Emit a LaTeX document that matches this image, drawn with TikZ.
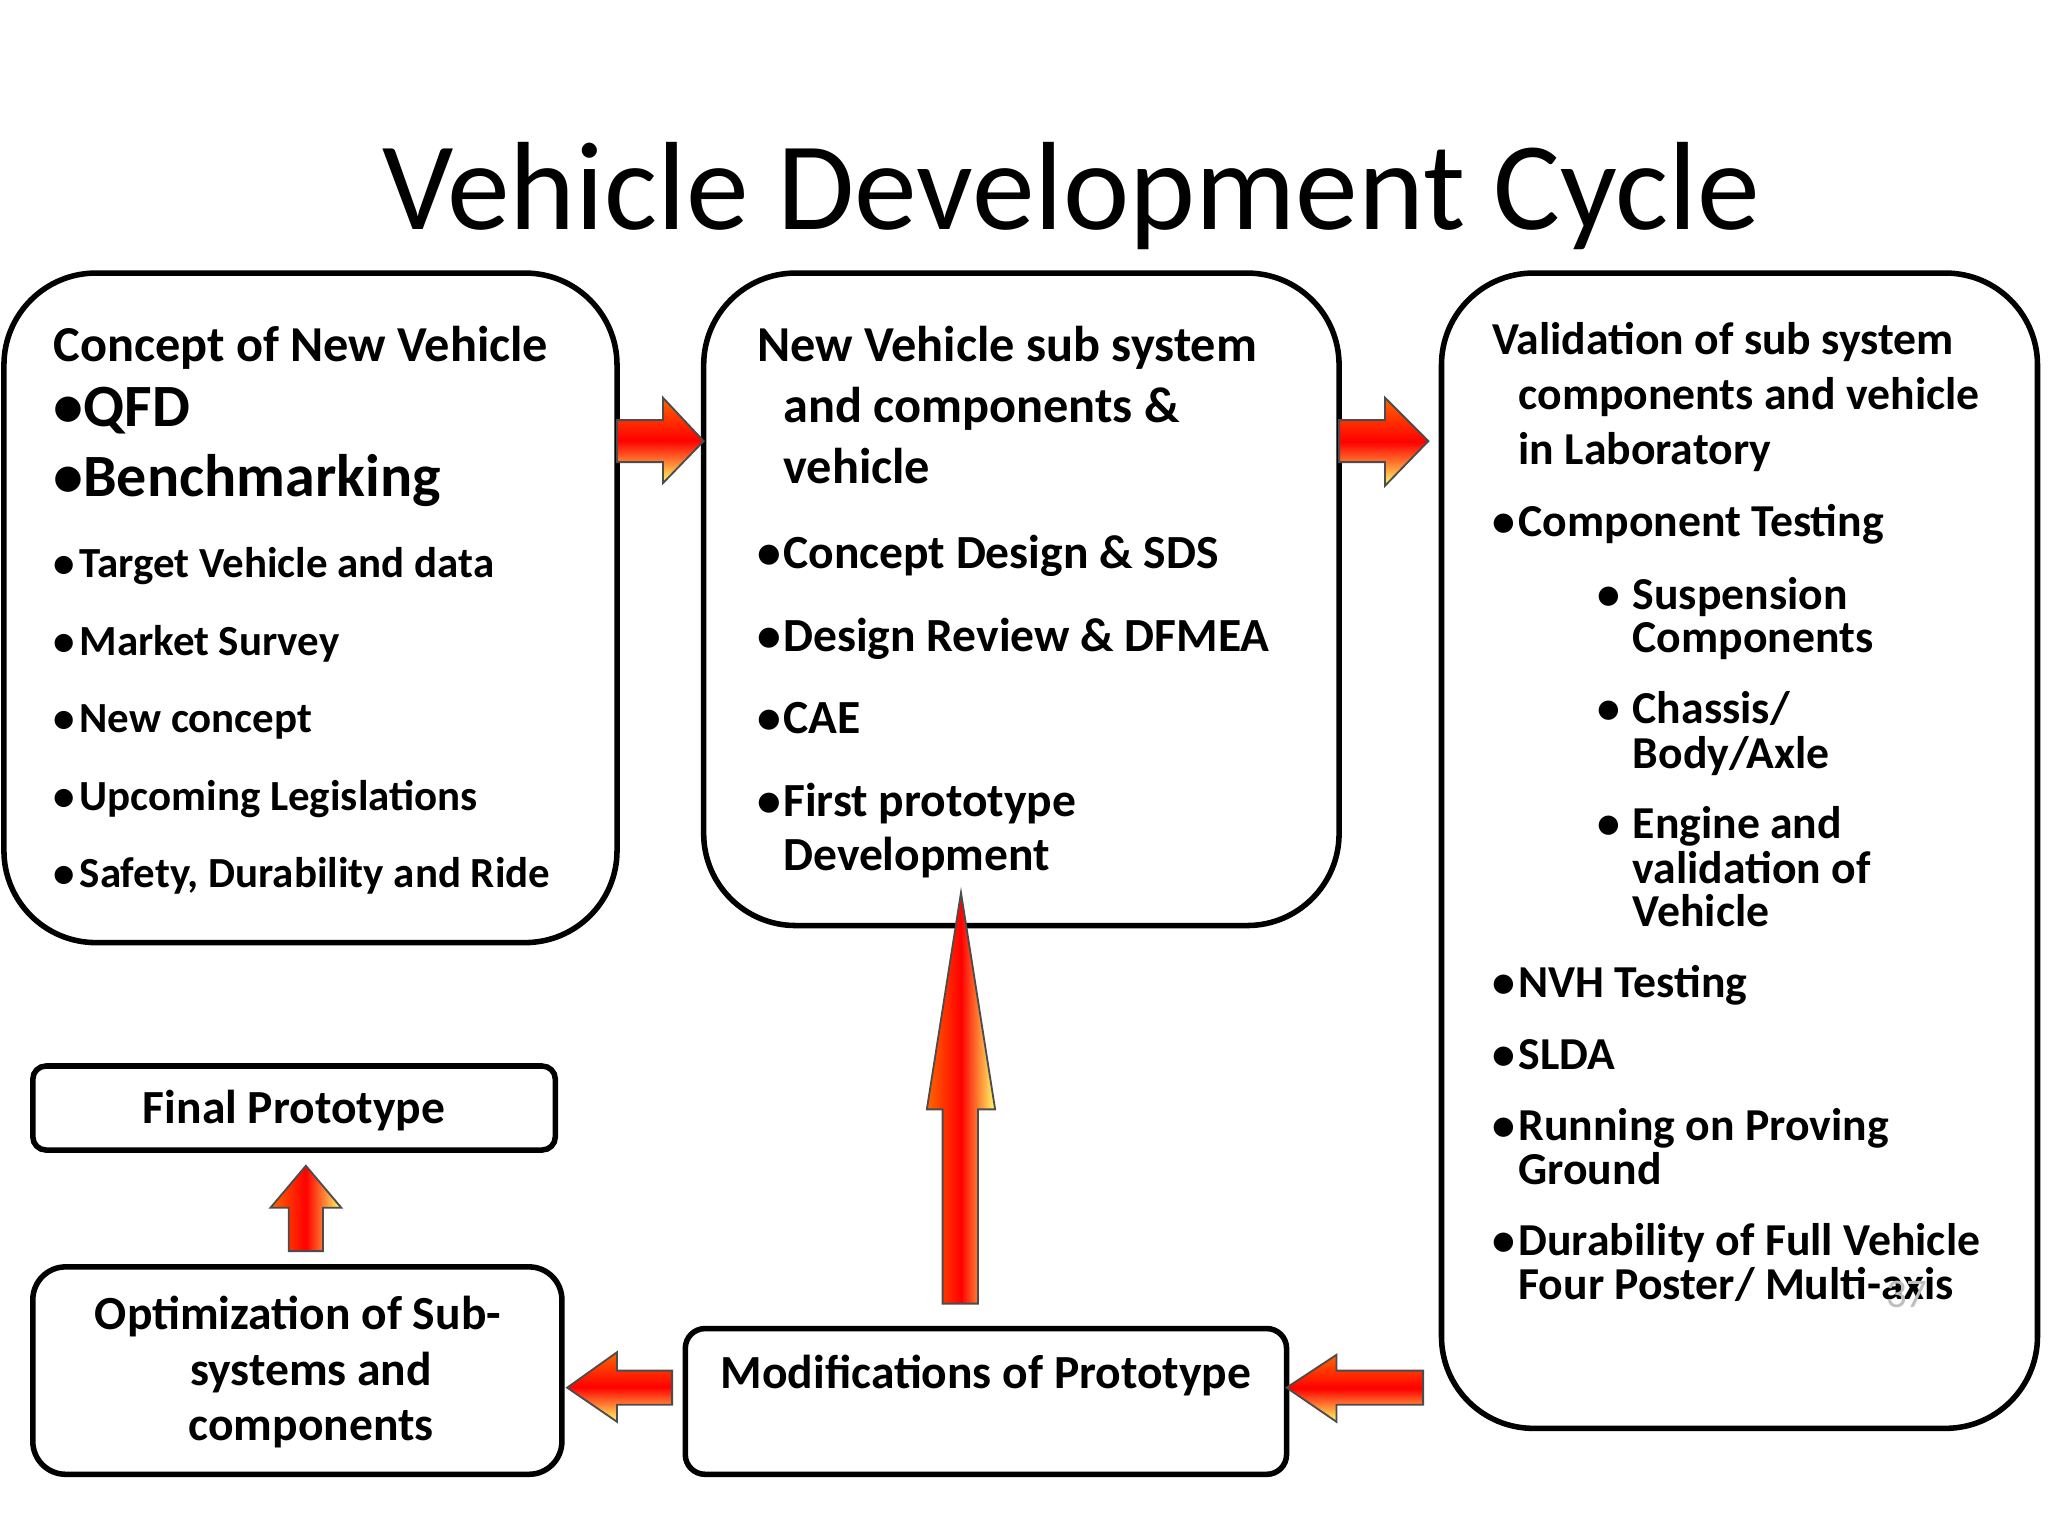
\documentclass[tikz,border=0pt]{standalone}
\usepackage{fontspec}
\setmainfont{Carlito}
\begin{document}
\begin{tikzpicture}[x=0.01cm,y=-0.01cm,
  box/.style={draw=black,line width=1.2pt},
  ar/.style={draw=black!70,line width=0.4pt},
  tx/.style={anchor=base west,inner sep=0pt,font=\bfseries\fontsize{#1}{#1}\selectfont},
  tc/.style={anchor=base,inner sep=0pt,font=\bfseries\fontsize{#1}{#1}\selectfont}]
\useasboundingbox (0,0) rectangle (1560,1170);
\fill[white] (0,0) rectangle (1560,1170);
\node[anchor=base,inner sep=0pt,font=\fontsize{27.2pt}{27.2pt}\selectfont] (title) at (816,175) {Vehicle Development Cycle};
% boxes
\draw[box,rounded corners=0.7cm] (3,208) rectangle (470,718);
\draw[box,rounded corners=0.7cm] (536,208) rectangle (1020,705);
\draw[box,rounded corners=0.7cm] (1098,208) rectangle (1552,1088);
\draw[box,rounded corners=0.1cm] (25,812) rectangle (423,876);
\draw[box,rounded corners=0.25cm] (25,965) rectangle (428,1123);
\draw[box,rounded corners=0.15cm] (522,1012) rectangle (980,1123);
% arrows
\shade[ar,top color=orange!80!red,bottom color=yellow!60,middle color=red] (470,320)--(505,320)--(505,303)--(536,336)--(505,368)--(505,352)--(470,352)--cycle;
\shade[ar,top color=orange!80!red,bottom color=yellow!60,middle color=red] (1020,320)--(1055,320)--(1055,303)--(1088,336)--(1055,370)--(1055,352)--(1020,352)--cycle;
\shade[ar,left color=orange!80!red,right color=yellow!60,middle color=red] (732,680)--(758,845)--(745,845)--(745,993)--(718,993)--(718,845)--(706,845)--cycle;
\shade[ar,left color=orange!80!red,right color=yellow!60,middle color=red] (233,888)--(260,920)--(246,920)--(246,953)--(220,953)--(220,920)--(206,920)--cycle;
\shade[ar,top color=orange!80!red,bottom color=yellow!60,middle color=red] (432,1057)--(470,1030)--(470,1044)--(512,1044)--(512,1070)--(470,1070)--(470,1083)--cycle;
\shade[ar,top color=orange!80!red,bottom color=yellow!60,middle color=red] (980,1057)--(1018,1032)--(1018,1044)--(1084,1044)--(1084,1070)--(1018,1070)--(1018,1083)--cycle;
% box1
\node[tx=10.9pt] (a0) at (40,275) {Concept of New Vehicle};
\node[tx=13pt] (a1) at (40,325) {•QFD};
\node[tx=13pt] (a2) at (40,378) {•Benchmarking};
\foreach \y/\t [count=\i] in {440/Target Vehicle and data,499/Market Survey,558/New concept,617/Upcoming Legislations,676/{Safety, Durability and Ride}}{
  \node[tx=9.3pt] (ab\i) at (40,\y) {•};
  \node[tx=9.3pt] (at\i) at (60,\y) {\t};}
% box2
\node[tx=10.9pt] (b0) at (576,275) {New Vehicle sub system};
\node[tx=10.9pt] (b1) at (596,322) {and components \&};
\node[tx=10.9pt] (b2) at (596,368) {vehicle};
\foreach \y/\t [count=\i] in {433/Concept Design \& SDS,496/Design Review \& DFMEA,559/CAE,622/First prototype}{
  \node[tx=10.3pt] (bb\i) at (576,\y) {•};
  \node[tx=10.3pt] (bt\i) at (596,\y) {\t};}
\node[tx=10.3pt] (b9) at (596,663) {Development};
% box3
\node[tx=9.9pt] (c0) at (1136,270) {Validation of sub system};
\node[tx=9.9pt] (c1) at (1156,312) {components and vehicle};
\node[tx=9.9pt] (c2) at (1156,354) {in Laboratory};
\foreach \y/\t [count=\i] in {409/Component Testing,760/NVH Testing,815/SLDA,869/Running on Proving,956/Durability of Full Vehicle}{
  \node[tx=9.9pt] (cb\i) at (1136,\y) {•};
  \node[tx=9.9pt] (ct\i) at (1156,\y) {\t};}
\node[tx=9.9pt] (c3) at (1156,902) {Ground};
\node[tx=9.9pt] (c4) at (1156,990) {Four Poster/ Multi-axis};
\node[anchor=base west,inner sep=0pt,text=black!25,font=\fontsize{8.8pt}{8.8pt}\selectfont] (num) at (1436,996) {37};
\foreach \y [count=\i] in {464,551,639}{
  \node[tx=9.9pt] (sb\i) at (1216,\y) {•};}
\foreach \y/\t [count=\i] in {464/Suspension,497/Components,551/{Chassis/},585/{Body/Axle},639/Engine and,673/validation of,706/Vehicle}{
  \node[tx=9.9pt] (st\i) at (1243,\y) {\t};}
% small boxes
\node[tc=10.3pt] (fp) at (224,856) {Final Prototype};
\node[tc=10.3pt] (o1) at (227,1013) {Optimization of Sub-};
\node[tc=10.3pt] (o2) at (237,1055) {systems and};
\node[tc=10.3pt] (o3) at (237,1097) {components};
\node[tc=10.3pt] (mp) at (751,1058) {Modifications of Prototype};
\end{tikzpicture}
\end{document}
